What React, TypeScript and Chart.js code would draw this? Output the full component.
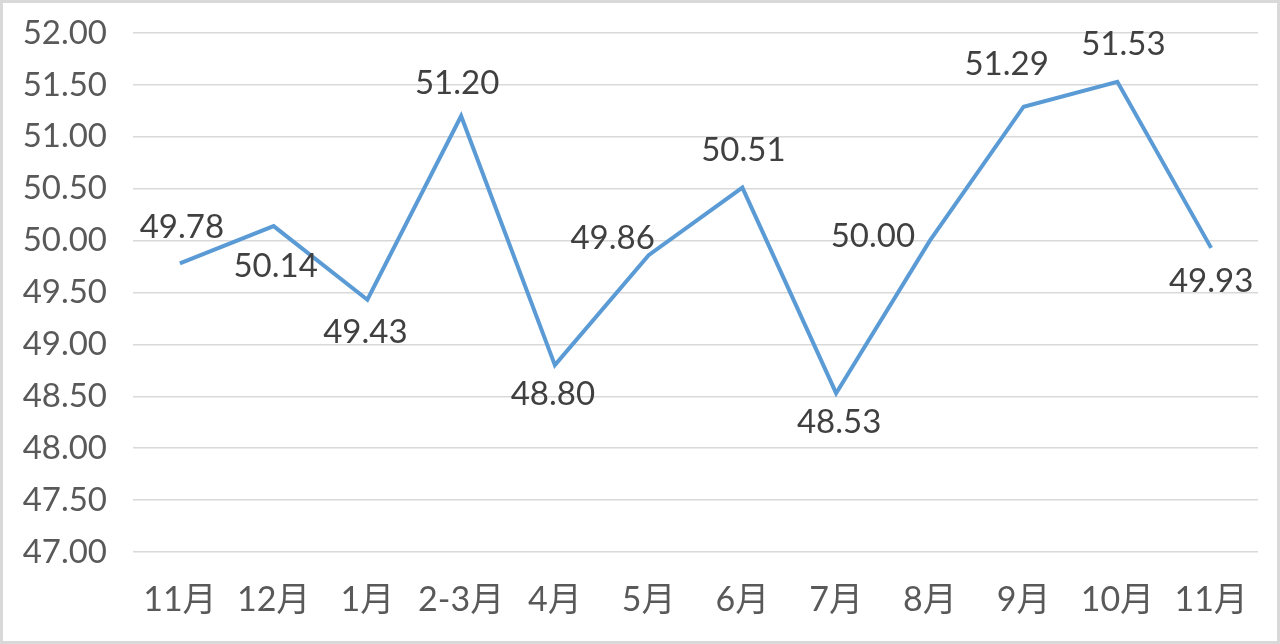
import React, { useEffect, useRef } from "react";
import { Chart, registerables } from "chart.js";

Chart.register(...registerables);

const categories = ["11月", "12月", "1月", "2-3月", "4月", "5月", "6月", "7月", "8月", "9月", "10月", "11月"];
const values = [49.78, 50.14, 49.43, 51.2, 48.8, 49.86, 50.51, 48.53, 50.0, 51.29, 51.53, 49.93];
const yMin = 47;
const yMax = 52;
const yStep = 0.5;

// label placement relative to each point (dx, dy in px)
const labelOffsets: [number, number][] = [
  [2, -36], [2, 40], [-2, 33], [-4, -33], [-2, 29], [-36, -17],
  [1, -37], [3, 29], [-57, -4], [-17, -42], [6, -37], [0, 33],
];

const FONT = "Lato, 'Noto Sans CJK SC', sans-serif";

const framePlugin = {
  id: "frame",
  beforeDraw(chart: any) {
    const { ctx, width, height } = chart;
    ctx.save();
    ctx.fillStyle = "#ffffff";
    ctx.fillRect(0, 0, width, height);
    ctx.strokeStyle = "#d9d9d9";
    ctx.lineWidth = 3;
    ctx.strokeRect(1.5, 1.5, width - 3, height - 3);
    ctx.restore();
  },
};

const labelPlugin = {
  id: "valueLabels",
  afterDatasetsDraw(chart: any) {
    const { ctx } = chart;
    const meta = chart.getDatasetMeta(0);
    ctx.save();
    ctx.font = `33px ${FONT}`;
    ctx.fillStyle = "#404040";
    ctx.textAlign = "center";
    ctx.textBaseline = "middle";
    meta.data.forEach((pt: any, i: number) => {
      const [dx, dy] = labelOffsets[i];
      ctx.fillText(values[i].toFixed(2), pt.x + dx, pt.y + dy);
    });
    ctx.restore();
  },
};

export default function App() {
  const ref = useRef<HTMLCanvasElement>(null);
  useEffect(() => {
    const chart = new Chart(ref.current!, {
      type: "line",
      data: {
        labels: categories,
        datasets: [
          {
            data: values,
            borderColor: "#5b9bd5",
            borderWidth: 4,
            pointRadius: 0,
            tension: 0,
            fill: false,
          },
        ],
      },
      options: {
        animation: false,
        responsive: false,
        devicePixelRatio: 1,
        layout: { padding: { left: 0, top: 33, right: 22, bottom: 0 } },
        plugins: { legend: { display: false }, tooltip: { enabled: false } },
        scales: {
          x: {
            offset: true,
            grid: { display: false, drawTicks: false },
            border: { display: false },
            ticks: {
              color: "#595959",
              font: { family: FONT, size: 34 },
              padding: 28,
              maxRotation: 0,
              autoSkip: false,
            },
            afterFit: (s: any) => {
              s.height = 92;
              s.paddingLeft = 0;
              s.paddingRight = 0;
            },
          },
          y: {
            min: yMin,
            max: yMax,
            grid: { color: "#d9d9d9", lineWidth: 1.5, drawTicks: false },
            border: { display: false },
            ticks: {
              stepSize: yStep,
              color: "#595959",
              font: { family: FONT, size: 33 },
              padding: 26,
              callback: (v: any) => Number(v).toFixed(2),
            },
            afterFit: (s: any) => {
              s.width = 133;
              s.paddingTop = 0;
              s.paddingBottom = 0;
            },
          },
        },
      },
      plugins: [framePlugin, labelPlugin],
    });
    return () => chart.destroy();
  }, []);
  return (
    <div style={{ position: "fixed", left: 0, top: 0, width: 1280, height: 644 }}>
      <canvas ref={ref} width={1280} height={644} style={{ display: "block" }} />
    </div>
  );
}
